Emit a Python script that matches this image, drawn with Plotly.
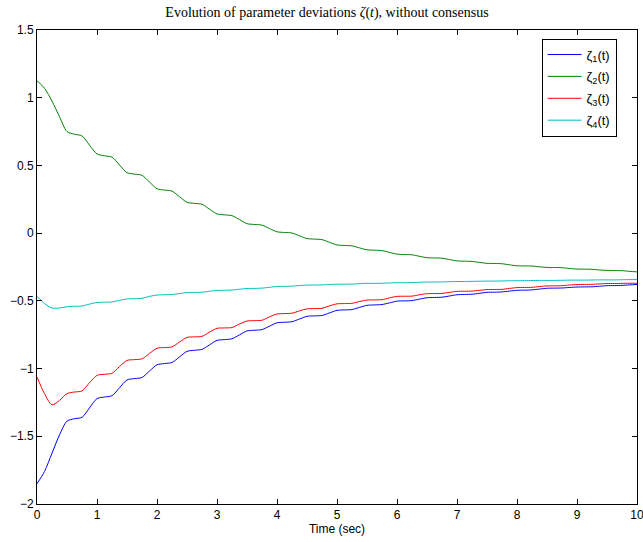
import plotly.graph_objects as go

time_s = [i * 0.125 for i in range(81)]

zeta1 = [-1.850, -1.760, -1.625, -1.490, -1.388, -1.370, -1.360, -1.290, -1.222, -1.210,
         -1.200, -1.142, -1.084, -1.074, -1.066, -1.018, -0.972, -0.963, -0.955, -0.914,
         -0.873, -0.865, -0.858, -0.825, -0.792, -0.786, -0.780, -0.751, -0.722, -0.717,
         -0.712, -0.687, -0.662, -0.658, -0.654, -0.634, -0.614, -0.611, -0.608, -0.589,
         -0.570, -0.567, -0.564, -0.548, -0.533, -0.530, -0.527, -0.515, -0.502, -0.500,
         -0.498, -0.487, -0.477, -0.475, -0.473, -0.464, -0.455, -0.453, -0.451, -0.444,
         -0.437, -0.436, -0.434, -0.428, -0.422, -0.421, -0.419, -0.413, -0.407, -0.406,
         -0.405, -0.401, -0.398, -0.397, -0.396, -0.392, -0.388, -0.387, -0.386, -0.382,
         -0.379]

zeta2 = [1.126, 1.070, 0.975, 0.860, 0.750, 0.730, 0.718, 0.650, 0.585, 0.571,
         0.561, 0.503, 0.447, 0.436, 0.427, 0.377, 0.328, 0.318, 0.310, 0.269,
         0.228, 0.220, 0.213, 0.177, 0.142, 0.135, 0.129, 0.100, 0.070, 0.064,
         0.059, 0.034, 0.010, 0.005, 0.001, -0.020, -0.040, -0.044, -0.048, -0.068,
         -0.087, -0.091, -0.094, -0.109, -0.123, -0.126, -0.129, -0.142, -0.155, -0.158,
         -0.160, -0.171, -0.181, -0.183, -0.185, -0.195, -0.205, -0.207, -0.209, -0.216,
         -0.223, -0.224, -0.226, -0.234, -0.241, -0.242, -0.243, -0.249, -0.253, -0.254,
         -0.255, -0.261, -0.265, -0.266, -0.267, -0.272, -0.275, -0.276, -0.277, -0.282,
         -0.286]

zeta3 = [-1.062, -1.185, -1.268, -1.235, -1.185, -1.173, -1.165, -1.105, -1.050, -1.042,
         -1.035, -0.985, -0.940, -0.934, -0.928, -0.888, -0.850, -0.845, -0.840, -0.804,
         -0.770, -0.766, -0.762, -0.731, -0.703, -0.700, -0.697, -0.671, -0.649, -0.646,
         -0.643, -0.618, -0.597, -0.594, -0.591, -0.574, -0.559, -0.557, -0.555, -0.537,
         -0.522, -0.520, -0.518, -0.505, -0.494, -0.493, -0.491, -0.478, -0.467, -0.466,
         -0.465, -0.455, -0.447, -0.446, -0.445, -0.437, -0.430, -0.429, -0.428, -0.422,
         -0.417, -0.416, -0.415, -0.408, -0.402, -0.401, -0.400, -0.394, -0.390, -0.389,
         -0.388, -0.383, -0.380, -0.379, -0.378, -0.375, -0.372, -0.372, -0.371, -0.370,
         -0.370]

zeta4 = [-0.466, -0.520, -0.553, -0.553, -0.543, -0.540, -0.538, -0.524, -0.512, -0.510,
         -0.508, -0.496, -0.486, -0.484, -0.481, -0.467, -0.457, -0.455, -0.453, -0.446,
         -0.439, -0.438, -0.436, -0.429, -0.423, -0.422, -0.420, -0.414, -0.409, -0.408,
         -0.406, -0.400, -0.394, -0.393, -0.391, -0.387, -0.384, -0.383, -0.382, -0.379,
         -0.377, -0.377, -0.376, -0.373, -0.371, -0.371, -0.370, -0.368, -0.366, -0.366,
         -0.365, -0.363, -0.361, -0.361, -0.360, -0.358, -0.357, -0.357, -0.356, -0.355,
         -0.354, -0.354, -0.353, -0.352, -0.351, -0.351, -0.350, -0.349, -0.349, -0.349,
         -0.348, -0.347, -0.347, -0.347, -0.346, -0.345, -0.345, -0.345, -0.344, -0.343,
         -0.343]

series_names = ["ζ<sub>1</sub>(t)", "ζ<sub>2</sub>(t)", "ζ<sub>3</sub>(t)", "ζ<sub>4</sub>(t)"]
series_values = [zeta1, zeta2, zeta3, zeta4]
series_colors = ["#0000ff", "#008000", "#ff0000", "#00bfbf"]

x_ticks = [0, 1, 2, 3, 4, 5, 6, 7, 8, 9, 10]
y_ticks = [-2, -1.5, -1, -0.5, 0, 0.5, 1, 1.5]

fig = go.Figure()
for i, (name, vals, col) in enumerate(zip(series_names, series_values, series_colors)):
    fig.add_trace(go.Scatter(x=time_s, y=vals, mode="lines", name=name, legendgroup="g%d" % i,
                             line=dict(color=col, width=1, shape="spline", smoothing=0.8)))

W, H = 643, 542
ml, mr, mt, mb = 37, 6, 30, 38

axis_common = dict(showline=True, linecolor="black", linewidth=1, mirror="ticks",
                   ticks="inside", ticklen=5, tickcolor="black", showgrid=False,
                   zeroline=False, ticklabeloverflow="allow", automargin=False,
                   tickfont=dict(family="Liberation Sans, Arial", size=12, color="black"))

fig.update_layout(
    width=W, height=H, autosize=False,
    margin=dict(l=ml, r=mr, t=mt, b=mb, pad=0, autoexpand=False),
    paper_bgcolor="white", plot_bgcolor="white",
    title=dict(text="Evolution of parameter deviations <i>ζ</i>(<i>t</i>), without consensus",
               x=327 / W, xanchor="center", y=1 - 12 / H, yanchor="middle",
               font=dict(family="Liberation Serif, Times New Roman", size=14, color="black")),
    xaxis=dict(range=[0, 10], tickvals=x_ticks, ticktext=[str(v) for v in x_ticks],
               title=dict(text="Time (sec)", standoff=2,
                          font=dict(family="Liberation Sans, Arial", size=12, color="black")),
               **axis_common),
    yaxis=dict(range=[-2, 1.5], tickvals=y_ticks,
               ticktext=[("\u2212" if v < 0 else "") + ("%g" % abs(v)) for v in y_ticks],
               **axis_common),
    legend=dict(x=0.966, y=0.982, xanchor="right", yanchor="top",
                bgcolor="white", bordercolor="black", borderwidth=1,
                itemwidth=34, tracegroupgap=2,
                font=dict(family="Liberation Sans, Arial", size=13, color="black")),
    showlegend=True,
)

# remove the browser's default 8px body margin so the figure starts at the window corner
fig.write_html("out.html", config={"displayModeBar": False, "responsive": False},
               post_script="document.body.style.margin='0';")
